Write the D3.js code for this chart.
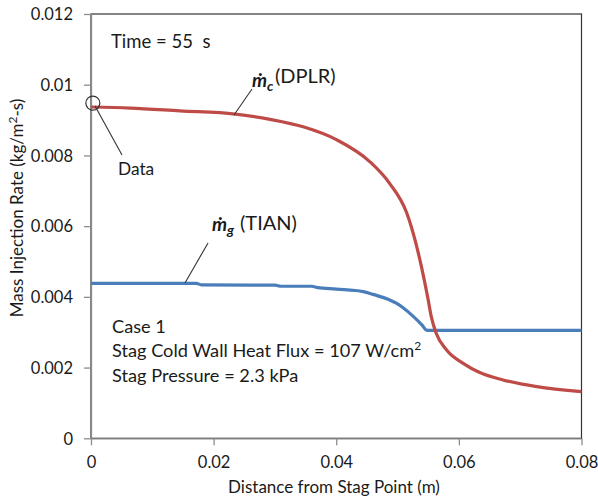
<!DOCTYPE html>
<html>
<head>
<meta charset="utf-8">
<script src="https://cdn.jsdelivr.net/npm/d3@7"></script>
<style>
  html, body { margin: 0; padding: 0; background: #fff; }
  svg { display: block; }
  text { font-family: Lato, "Open Sans", sans-serif; fill: #1a1a1a; white-space: pre; }
</style>
</head>
<body>
<svg id="chart" width="598" height="504"></svg>
<script>
// Mass injection rate along the surface, DPLR (char) and TIAN (gas)
const distDPLR = [0, 0.0064, 0.0145, 0.0235, 0.0292, 0.0346, 0.0401, 0.0455, 0.0487, 0.0515, 0.0523, 0.0539, 0.0550, 0.0555, 0.0563, 0.0580, 0.0607, 0.0634, 0.0672, 0.0727, 0.080];
const rateDPLR = [0.00937, 0.00934, 0.00926, 0.00917, 0.00902, 0.00881, 0.00844, 0.00782, 0.00721, 0.00637, 0.00595, 0.00485, 0.00391, 0.00344, 0.00297, 0.00250, 0.00212, 0.00186, 0.00165, 0.00146, 0.00132];

const distTIAN = [0, 0.0172, 0.0180, 0.0300, 0.0310, 0.0360, 0.0370, 0.0400, 0.0444, 0.0460, 0.0498, 0.0509, 0.0526, 0.0540, 0.0547, 0.0553, 0.080];
const rateTIAN = [0.00438, 0.00438, 0.00434, 0.00433, 0.00430, 0.00430, 0.00426, 0.00422, 0.00415, 0.00407, 0.00382, 0.00369, 0.00344, 0.00320, 0.00306, 0.00305, 0.00305];

// measured value at the stagnation point
const dataDist = [0.0003];
const dataRate = [0.00948];

const xTicks = [0, 0.02, 0.04, 0.06, 0.08];
const xTickLabels = ["0", "0.02", "0.04", "0.06", "0.08"];
const yTicks = [0, 0.002, 0.004, 0.006, 0.008, 0.01, 0.012];
const yTickLabels = ["0", "0.002", "0.004", "0.006", "0.008", "0.01", "0.012"];

const svg = d3.select("#chart");
const plotL = 91, plotR = 581.5, plotT = 14, plotB = 438.3;

const x = d3.scaleLinear().domain([0, 0.08]).range([plotL, plotR]);
const y = d3.scaleLinear().domain([0, 0.012]).range([plotB, plotT]);

svg.append("rect").attr("width", 598).attr("height", 504).attr("fill", "#fff");

// plot area frame
svg.append("rect")
  .attr("x", plotL).attr("y", plotT)
  .attr("width", plotR - plotL).attr("height", plotB - plotT)
  .attr("fill", "none").attr("stroke", "#333").attr("stroke-width", 1.2);

// axes
const xAxis = d3.axisBottom(x).tickValues(xTicks).tickSize(7)
  .tickFormat((d, i) => xTickLabels[i]);
const yAxis = d3.axisLeft(y).tickValues(yTicks).tickSize(7)
  .tickFormat((d, i) => yTickLabels[i]);

const gx = svg.append("g").attr("transform", `translate(0,${plotB})`).call(xAxis);
const gy = svg.append("g").attr("transform", `translate(${plotL},0)`).call(yAxis);

[gx, gy].forEach(g => {
  g.select(".domain").attr("stroke", "#8c8c8c").attr("stroke-width", 1.3);
  g.selectAll(".tick line").attr("stroke", "#8c8c8c").attr("stroke-width", 1.3);
  g.selectAll(".tick text").attr("font-size", 16.5).attr("fill", "#1a1a1a")
    .style("font-family", "Lato, sans-serif");
});
gx.select(".domain").attr("d", `M${plotL},0.5H${plotR}`);
gy.select(".domain").attr("d", `M0.5,${plotB}V${plotT}`);
gx.selectAll(".tick text").attr("dy", null).attr("y", 30);
gy.selectAll(".tick text").attr("x", -18).attr("dy", "0.35em");

// axis titles
svg.append("text")
  .attr("x", 334).attr("y", 493)
  .attr("text-anchor", "middle").attr("font-size", 17)
  .text("Distance from Stag Point (m)");

const yt = svg.append("text")
  .attr("transform", "translate(23,208) rotate(-90)")
  .attr("text-anchor", "middle").attr("font-size", 17);
yt.append("tspan").text("Mass Injection Rate (kg/m");
yt.append("tspan").attr("font-size", 12).attr("dy", -6).text("2");
yt.append("tspan").attr("dy", 6).text("-s)");

// series
const line = d3.line().x(d => x(d[0])).y(d => y(d[1])).curve(d3.curveMonotoneX);

svg.append("path")
  .datum(distTIAN.map((d, i) => [d, rateTIAN[i]]))
  .attr("d", line).attr("fill", "none")
  .attr("stroke", "#4a7ebb").attr("stroke-width", 3.2).attr("stroke-linejoin", "round");

svg.append("path")
  .datum(distDPLR.map((d, i) => [d, rateDPLR[i]]))
  .attr("d", line).attr("fill", "none")
  .attr("stroke", "#be4b48").attr("stroke-width", 3.2).attr("stroke-linejoin", "round");

// measured data marker
svg.selectAll("circle.data")
  .data(dataDist.map((d, i) => [d, dataRate[i]]))
  .join("circle").attr("class", "data")
  .attr("cx", d => x(d[0])).attr("cy", d => y(d[1])).attr("r", 7)
  .attr("fill", "none").attr("stroke", "#333").attr("stroke-width", 1.2);

// leader lines
const leaders = [
  [95, 106, 122, 155],
  [252, 89, 234, 115],
  [208, 243, 185, 283]
];
svg.selectAll("line.leader").data(leaders).join("line").attr("class", "leader")
  .attr("x1", d => d[0]).attr("y1", d => d[1]).attr("x2", d => d[2]).attr("y2", d => d[3])
  .attr("stroke", "#333").attr("stroke-width", 1.1);

// annotations
svg.append("text").attr("x", 118).attr("y", 175).attr("font-size", 17.3).text("Data");
svg.append("text").attr("x", 111).attr("y", 48).attr("font-size", 18.5).text("Time = 55  s");

function rateLabel(mx, my, sub, tx, ty, name) {
  const m = svg.append("text").attr("x", mx).attr("y", my).attr("font-size", 19)
    .attr("font-weight", "bold").attr("font-style", "italic");
  m.append("tspan").text("\u1E41");
  m.append("tspan").attr("font-size", 14).attr("dy", 4).text(sub);
  svg.append("text").attr("x", tx).attr("y", ty).attr("font-size", 20).text("(" + name + ")");
}
rateLabel(252, 87, "c", 275, 83, "DPLR");
rateLabel(212, 231, "g", 240, 230, "TIAN");

const caseLines = ["Case 1", "Stag Cold Wall Heat Flux = 107 W/cm", "Stag Pressure = 2.3 kPa"];
const caseBase = [333, 357, 382];
caseLines.forEach((s, i) => {
  const t = svg.append("text").attr("x", 112).attr("y", caseBase[i]).attr("font-size", 18.2);
  t.append("tspan").text(s);
  if (i === 1) t.append("tspan").attr("font-size", 12).attr("dy", -7).text("2");
});
</script>
</body>
</html>
